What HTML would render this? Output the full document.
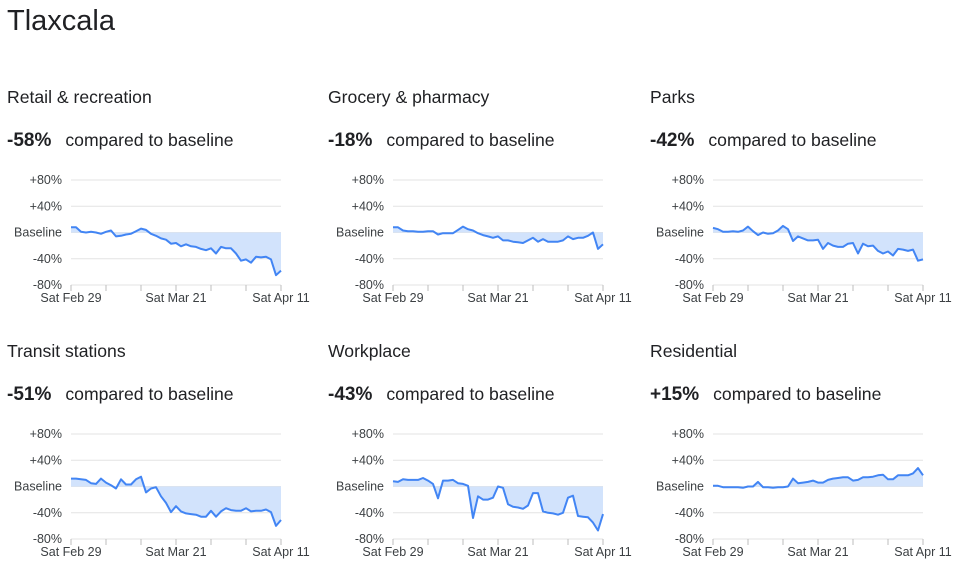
<!DOCTYPE html>
<html><head><meta charset="utf-8">
<style>
body{margin:0;background:#fff;width:978px;height:571px;overflow:hidden;font-family:"Liberation Sans",Arial,sans-serif;}
svg{position:absolute;left:0;top:0}
</style></head>
<body>
<svg id="c" width="978" height="571"></svg>
<script>
const categories = ["Retail & recreation","Grocery & pharmacy","Parks","Transit stations","Workplace","Residential"];
const headline = ["-58%","-18%","-42%","-51%","-43%","+15%"];
const tickLabels = ["+80%","+40%","Baseline","-40%","-80%"];
const tickValues = [80,40,0,-40,-80];
const dateLabels = ["Sat Feb 29","Sat Mar 21","Sat Apr 11"];
const retail = [8,8,1,0,1,0,-2,1,3,-6,-5,-3,-2,2,6,4,-2,-5,-9,-11,-17,-16,-21,-18,-21,-22,-25,-27,-24,-32,-22,-24,-24,-32,-43,-41,-46,-37,-38,-37,-41,-65,-58];
const grocery = [8,8,3,2,2,1,1,2,2,-3,-1,-1,-1,4,9,5,3,-1,-4,-6,-8,-6,-12,-12,-14,-15,-16,-12,-8,-14,-10,-14,-14,-14,-12,-6,-10,-8,-8,-5,0,-25,-18];
const parks = [7,5,1,1,2,1,3,9,2,-4,0,-2,-1,3,10,5,-13,-6,-9,-12,-12,-11,-25,-16,-20,-22,-22,-17,-16,-32,-17,-21,-20,-28,-32,-29,-35,-25,-26,-28,-26,-43,-41];
const transit = [12,12,11,10,5,4,12,6,2,-3,11,3,3,11,15,-9,-3,-1,-15,-25,-39,-30,-38,-41,-42,-43,-46,-46,-37,-46,-38,-33,-36,-37,-37,-33,-38,-37,-37,-35,-39,-60,-51];
const workplace = [8,7,11,10,10,10,13,9,4,-18,9,9,10,5,4,1,-48,-15,-20,-20,-17,0,-2,-27,-31,-32,-34,-29,-10,-10,-38,-40,-41,-43,-40,-17,-14,-45,-46,-47,-55,-67,-42];
const residential = [1,1,-1,-1,-1,-1,-2,0,0,7,-1,-1,-2,-1,-1,0,12,5,6,7,9,6,6,10,12,13,14,14,9,10,14,14,15,17,18,11,11,17,17,17,20,28,17];
const series = [retail,grocery,parks,transit,workplace,residential];
const slugs = ["retail","grocery","parks","transit","workplace","residential"];

const NS="http://www.w3.org/2000/svg";
const svg=document.getElementById('c');
function mk(tag,attrs,parent){const e=document.createElementNS(NS,tag);for(const k in attrs)e.setAttribute(k,attrs[k]);(parent||svg).appendChild(e);return e;}

const t=mk('text',{x:7,y:30,'font-size':29,fill:'#202124'});


t.textContent='Tlaxcala';

const colX=[[7,71],[328,393],[650,713]];
const W=210;
for(let p=0;p<6;p++){
  const col=p%3,row=Math.floor(p/3);
  const oy=row*254;
  const x0=colX[col][1], tx=colX[col][0];
  const top=180+oy, bot=285+oy;
  const g=mk('g',{});
  
  
  const yS=v=>top+(80-v)/160*(bot-top);
  const n=series[p].length;
  const xS=i=>x0+i*W/(n-1);
  const ti=mk('text',{x:tx,y:103+oy,'font-size':17.6,fill:'#202124'},g);
  
  
  ti.textContent=categories[p];
  const hd=mk('text',{x:tx,y:146+oy,'font-size':17.6,fill:'#202124'},g);
  
  
  const b=mk('tspan',{'font-weight':'bold','font-size':19},hd);b.textContent=headline[p];
  const r=mk('tspan',{dx:14},hd);r.textContent='compared to baseline';
  tickValues.forEach((v,k)=>{
    const gl=mk('line',{x1:x0,x2:x0+W,y1:yS(v),y2:yS(v),stroke:'#e3e3e3','stroke-width':1},g);
    
    
    const tl=mk('text',{x:x0-9,y:yS(v)+4,'font-size':12.5,fill:'#3c4043','text-anchor':'end'},g);
    
    
    tl.textContent=tickLabels[k];
  });
  for(let i=0;i<n;i+=7){
    const tk=mk('line',{x1:xS(i),x2:xS(i),y1:bot,y2:bot+6,stroke:'#bdbdbd','stroke-width':1},g);
    
    
  }
  dateLabels.forEach((d,k)=>{
    const xl=mk('text',{x:xS(k*21),y:bot+17,'font-size':12.5,fill:'#3c4043','text-anchor':'middle'},g);
    
    
    xl.textContent=d;
  });
  let pts=series[p].map((v,i)=>xS(i).toFixed(1)+','+yS(v).toFixed(1));
  const area=mk('polygon',{points:xS(0)+','+yS(0)+' '+pts.join(' ')+' '+xS(n-1)+','+yS(0),fill:'#d2e3fc'},g);
  
  
  const ln=mk('polyline',{points:pts.join(' '),fill:'none',stroke:'#4285f4','stroke-width':2,'stroke-linejoin':'round'},g);
  
  
}
</script>
</body></html>
